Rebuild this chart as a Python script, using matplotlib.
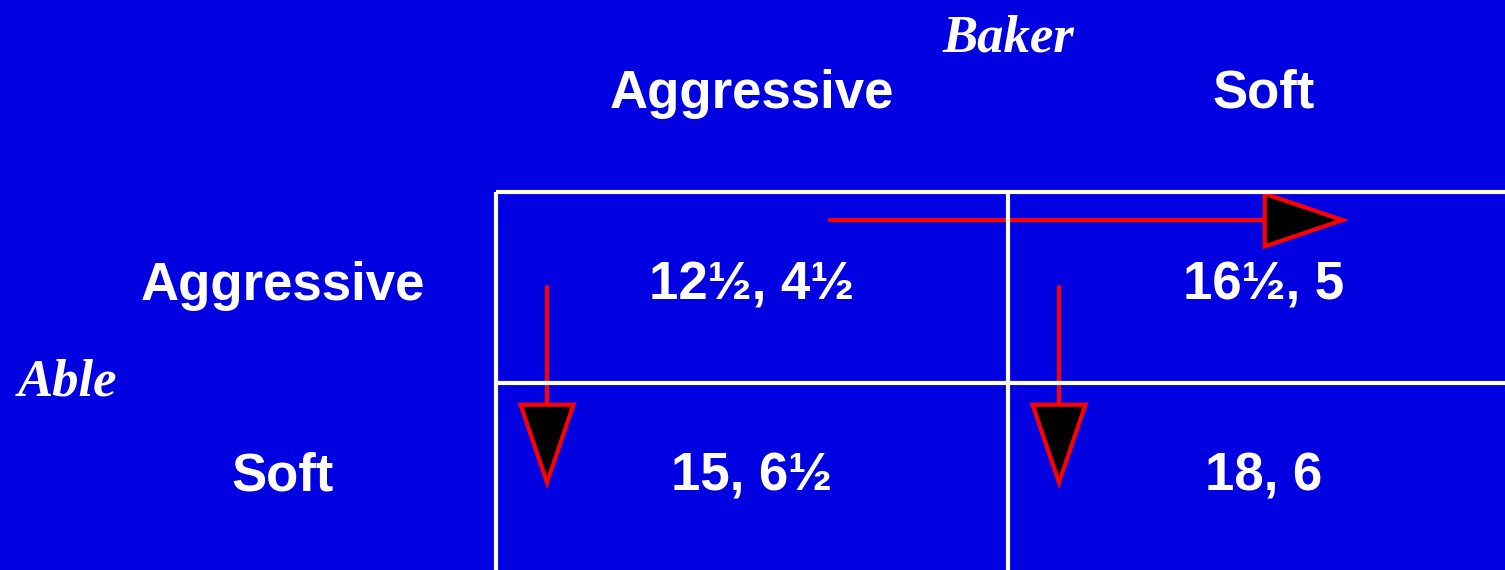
import matplotlib
matplotlib.use("Agg")
import matplotlib.pyplot as plt
from matplotlib.patches import FancyArrowPatch

# ---- data ----
row_player = "Able"
col_player = "Baker"
row_strategies = ["Aggressive", "Soft"]
col_strategies = ["Aggressive", "Soft"]
payoffs = [["12½, 4½", "16½, 5"],
           ["15, 6½", "18, 6"]]
# best-response arrows: (from_row, from_col) -> (to_row, to_col)
arrows = [((0, 0), (1, 0)), ((0, 1), (1, 1)), ((0, 0), (0, 1))]

BG = "#0000E0"
W, H = 1505, 570
fig = plt.figure(figsize=(W / 100, H / 100), dpi=100, facecolor=BG)
ax = fig.add_axes([0, 0, 1, 1])
ax.set_facecolor(BG)

# layout: cell grid in pixels
x0, cw = 496, 512
y0, ch = 192, 191
ax.set_xlim(-x0 / cw, (W - x0) / cw)
ax.set_ylim((H - y0) / ch, -y0 / ch)
ax.axis("off")

nr, nc = len(row_strategies), len(col_strategies)
xmax = (W - x0) / cw + 0.1
ymax = (H - y0) / ch + 0.1
# grid lines
for i in range(nr):
    ax.plot([0, xmax], [i, i], color="white", lw=3, solid_capstyle="butt")
for j in range(nc):
    ax.plot([j, j], [0, ymax], color="white", lw=3, solid_capstyle="butt")

sans = dict(family="Liberation Sans", weight="bold", color="white", fontsize=38)
serif = dict(family="Liberation Serif", weight="bold", style="italic",
             color="white", fontsize=38)

# column headers
for j, s in enumerate(col_strategies):
    ax.text(j + 0.5, -0.44, s, ha="center", va="baseline", **sans)
# row labels
for i, s in enumerate(row_strategies):
    ax.text(-0.416, i + 0.565, s, ha="center", va="baseline", **sans)
# payoffs
for i in range(nr):
    for j in range(nc):
        ax.text(j + 0.5, i + 0.565, payoffs[i][j], ha="center", va="baseline", **sans)

ax.text(1.0, -0.735, col_player, ha="center", va="baseline", **serif)
ax.text(-0.934, 1.063, row_player, ha="left", va="baseline", **serif)

# arrows
for (r0, c0), (r1, c1) in arrows:
    if r0 != r1:  # vertical
        start = (c0 + 0.0996, r0 + 0.497)
        end = (c1 + 0.0996, r1 + 0.555)
    else:  # horizontal
        start = (c0 + 0.652, r0 + 0.147)
        end = (c1 + 0.666, r1 + 0.147)
    arr = FancyArrowPatch(start, end,
                          arrowstyle="-|>,head_length=56,head_width=19",
                          mutation_scale=1, shrinkA=0, shrinkB=0,
                          facecolor="black", edgecolor="#FF0000", lw=3,
                          joinstyle="miter", capstyle="round")
    ax.add_patch(arr)

fig.savefig("out.png", dpi=100, facecolor=BG)
